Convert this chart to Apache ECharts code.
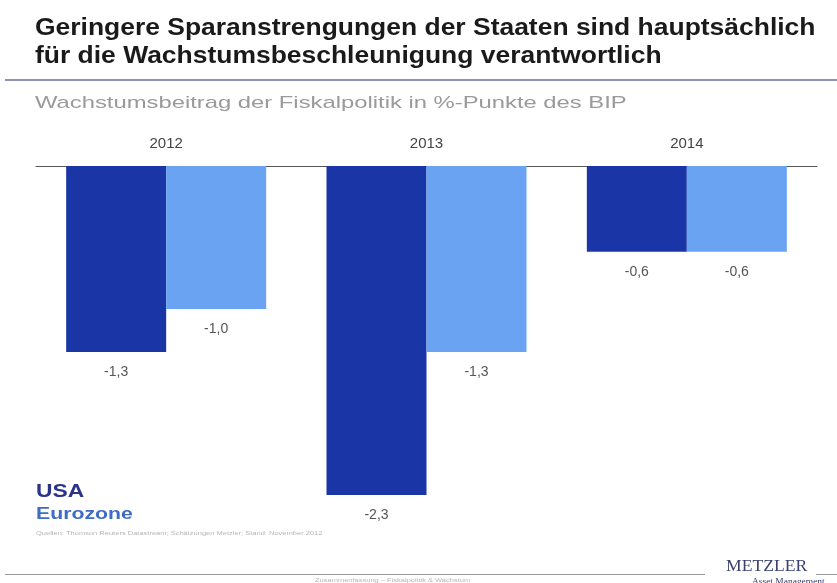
<!DOCTYPE html>
<html>
<head>
<meta charset="utf-8">
<script src="https://cdn.jsdelivr.net/npm/echarts@6/dist/echarts.min.js"></script>
<style>
html,body{margin:0;padding:0;background:#fff;}
#chart{width:837px;height:583px;}
</style>
</head>
<body>
<div id="chart"></div>
<script>
// Fiscal policy growth contribution, % points of GDP
const years = ['2012', '2013', '2014'];
const usa = [-1.3, -2.3, -0.6];
const eurozone = [-1.0, -1.3, -0.6];
const seriesNames = ['USA', 'Eurozone'];

const fmt = v => v.toFixed(1).replace('.', ',');
const labelStyle = {
  show: true,
  position: 'bottom',
  distance: 13,
  color: '#555',
  fontSize: 14,
  fontFamily: 'Liberation Sans',
  formatter: p => fmt(p.value)
};

// wide-set text helper for graphic labels
const wideText = (x, y, text, font, fill, sx) => ({
  type: 'text', x: x, y: y, scaleX: sx, scaleY: 1,
  style: { text: text, font: font, fill: fill, textVerticalAlign: 'middle' }
});

const chart = echarts.init(document.getElementById('chart'));
chart.setOption({
  animation: false,
  backgroundColor: '#fff',
  grid: { left: 36, right: 20, top: 166, bottom: 88, containLabel: false },
  xAxis: {
    type: 'category',
    data: years,
    position: 'top',
    axisLine: { show: true, lineStyle: { color: '#555', width: 1 } },
    axisTick: { show: false },
    axisLabel: { color: '#444', fontSize: 15, fontFamily: 'Liberation Sans', margin: 15 }
  },
  yAxis: {
    type: 'value',
    min: -2.3,
    max: 0,
    show: false,
    splitLine: { show: false }
  },
  series: [
    {
      name: seriesNames[0],
      type: 'bar',
      data: usa,
      barWidth: 100,
      barGap: '0%',
      itemStyle: { color: '#1a35a5' },
      label: labelStyle
    },
    {
      name: seriesNames[1],
      type: 'bar',
      data: eurozone,
      barWidth: 100,
      itemStyle: { color: '#6aa3f2' },
      label: labelStyle
    }
  ],
  graphic: [
    // headline and subtitle
    wideText(35, 29, 'Geringere Sparanstrengungen der Staaten sind hauptsächlich', 'bold 23px "Liberation Sans"', '#1a1a1a', 1.15),
    wideText(35, 57, 'für die Wachstumsbeschleunigung verantwortlich', 'bold 23px "Liberation Sans"', '#1a1a1a', 1.15),
    { type: 'rect', shape: { x: 5, y: 79, width: 832, height: 2 }, style: { fill: '#8d91b8' } },
    wideText(35, 103, 'Wachstumsbeitrag der Fiskalpolitik in %-Punkte des BIP', '17px "Liberation Sans"', '#9a9a9a', 1.4),
    // legend as coloured text
    wideText(36, 492, seriesNames[0], 'bold 19px "Liberation Sans"', '#2b3488', 1.2),
    wideText(36, 514, seriesNames[1], 'bold 17px "Liberation Sans"', '#3f6cc4', 1.25),
    // source line
    wideText(36, 533, 'Quellen: Thomson Reuters Datastream; Schätzungen Metzler; Stand: November 2012', '6px "Liberation Sans"', '#b5b5b5', 1.25),
    // footer rule
    { type: 'rect', shape: { x: 5, y: 574, width: 700, height: 1 }, style: { fill: '#9a9a9a' } },
    { type: 'rect', shape: { x: 816, y: 574, width: 21, height: 1 }, style: { fill: '#9a9a9a' } },
    wideText(315, 580, 'Zusammenfassung – Fiskalpolitik & Wachstum', '6px "Liberation Sans"', '#b5b5b5', 1.25),
    // company mark
    wideText(726, 567, 'METZLER', '16px "Liberation Serif"', '#3a4170', 1.1),
    wideText(752, 582, 'Asset Management', '9px "Liberation Serif"', '#3a4170', 1.05)
  ]
});
</script>
</body>
</html>
